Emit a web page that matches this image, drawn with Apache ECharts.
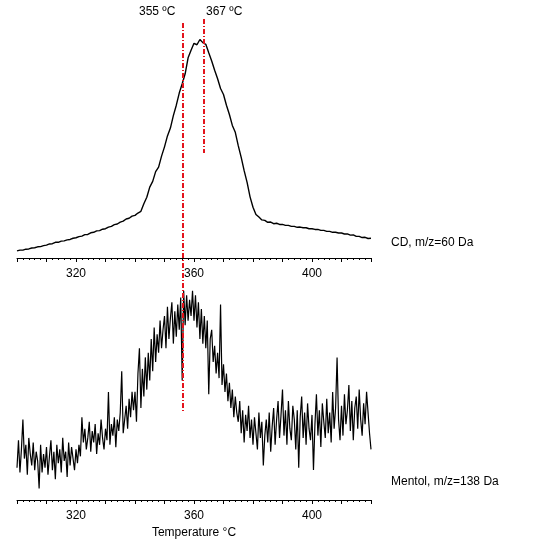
<!DOCTYPE html>
<html>
<head>
<meta charset="utf-8">
<script src="https://cdn.jsdelivr.net/npm/echarts@6/dist/echarts.min.js"></script>
<style>
  html, body { margin: 0; padding: 0; background: #fff; }
  #chart { width: 535px; height: 540px; }
</style>
</head>
<body>
<div id="chart"></div>
<script>
// temperature sampling of both traces (°C)
const tempStart = 300;
const cdStep = 1;
const mentolStep = 0.5;

// CD, m/z=60 Da (arbitrary units)
const cdValues = [
  3.0, 3.3, 3.3, 3.7, 3.8, 4.2, 4.3, 4.7, 4.8, 5.2,
  5.4, 5.9, 6.0, 6.6, 6.6, 7.1, 7.2, 7.6, 7.8, 8.3,
  8.5, 9.0, 9.2, 9.8, 9.9, 10.6, 10.8, 11.4, 11.5, 12.1,
  12.3, 13.0, 13.3, 14.0, 14.3, 15.1, 15.5, 16.4, 16.7, 17.6,
  17.9, 18.9, 19.6, 22.8, 25.5, 29.8, 32.2, 36.3, 38.2, 42.8,
  46.7, 51.3, 54.6, 59.8, 64.2, 69.3, 73.2, 77.4, 84.1, 87.3,
  90.2, 89.6, 91.8, 90.5, 89.8, 86.2, 82.8, 78.9, 75.3, 71.2,
  68.7, 64.2, 60.3, 55.7, 52.8, 47.2, 42.3, 36.7, 31.8, 25.7,
  21.3, 18.3, 17.2, 16.0, 15.8, 15.0, 15.1, 14.4, 14.6, 14.1,
  14.1, 13.7, 13.7, 13.3, 13.3, 12.9, 13.0, 12.7, 12.7, 12.3,
  12.3, 12.0, 12.0, 11.6, 11.6, 11.2, 11.2, 10.8, 10.8, 10.5,
  10.5, 10.1, 10.1, 9.6, 9.7, 9.1, 9.1, 8.6, 8.7, 8.2,
  8.3
];

// Mentol, m/z=138 Da (arbitrary units)
const mentolValues = [
  14, 26, 12, 22, 35, 18, 24, 11, 27, 20,
  15, 25, 13, 21, 17, 5, 24, 12, 20, 14,
  23, 11, 19, 26, 13, 21, 9, 24, 16, 22,
  12, 27, 17, 21, 10, 25, 15, 23, 18, 13,
  22, 16, 24, 19, 36, 25, 31, 22, 27, 34,
  21, 30, 25, 33, 20, 29, 24, 35, 27, 22,
  31, 26, 47, 24, 33, 28, 36, 23, 35, 30,
  38, 56, 29, 35, 41, 31, 44, 36, 47, 39,
  47, 34, 55, 66, 40, 57, 45, 62, 48, 64,
  52, 70, 56, 75, 60, 72, 64, 78, 66, 74,
  80, 66, 84, 70, 79, 86, 68, 82, 71, 85,
  74, 88, 52, 91, 76, 89, 78, 87, 80, 91,
  78, 89, 75, 86, 70, 83, 68, 80, 66, 78,
  46, 70, 74, 60, 67, 55, 64, 53, 85, 50,
  59, 47, 55, 43, 51, 40, 48, 36, 45, 38,
  34, 43, 29, 39, 25, 37, 30, 41, 27, 35,
  24, 36, 29, 22, 38, 27, 34, 15, 28, 35,
  25, 38, 21, 32, 40, 24, 35, 43, 27, 37,
  48, 28, 39, 24, 43, 31, 26, 41, 35, 22,
  39, 14, 36, 45, 27, 38, 24, 42, 31, 26,
  37, 13, 33, 46, 28, 39, 23, 42, 34, 27,
  44, 29, 38, 25, 47, 31, 40, 62, 35, 26,
  41, 28, 46, 33, 39, 50, 30, 43, 26, 40,
  45, 31, 48, 35, 28, 42, 33, 47, 38, 29,
  22
];

const tickLabels = [320, 360, 400];

// red dash-dot markers (temperature, and vertical extent on the overlay scale 0..540)
const markerTemps = [356.3, 363.3];
const markerFrom = [23, 19];
const markerTo = [413, 153];
const markerLabels = ['355 ºC', '367 ºC'];

const FONT = '"Liberation Sans", Arial, sans-serif';

const toPairs = (vals, step) => vals.map((v, i) => [tempStart + i * step, v]);

function tempAxis(gridIndex, extra) {
  return Object.assign({
    type: 'value',
    gridIndex: gridIndex,
    min: 300,
    max: 420,
    interval: 10,
    axisLine: { lineStyle: { color: '#000', width: 1 } },
    axisTick: { length: 4, lineStyle: { color: '#000', width: 1 } },
    minorTick: { show: true, splitNumber: 5, length: 2, lineStyle: { color: '#000', width: 1 } },
    splitLine: { show: false },
    minorSplitLine: { show: false },
    axisLabel: {
      margin: 10,
      color: '#000',
      fontSize: 12,
      fontFamily: FONT,
      formatter: (v) => (tickLabels.includes(v) ? String(v) : ''),
    },
  }, extra || {});
}

const myChart = echarts.init(document.getElementById('chart'));

const option = {
  animation: false,
  backgroundColor: '#fff',
  grid: [
    { left: 17, width: 354, top: 20, height: 238 },
    { left: 17, width: 354, top: 270, height: 235 },
    { left: 17, width: 354, top: 0, height: 540 }, // overlay for markers
  ],
  xAxis: [
    tempAxis(0),
    tempAxis(1, {
      name: 'Temperature °C',
      nameLocation: 'middle',
      nameGap: 27,
      nameTextStyle: { color: '#000', fontSize: 12, fontFamily: FONT },
    }),
    { type: 'value', gridIndex: 2, min: 300, max: 420, show: false },
  ],
  yAxis: [
    { type: 'value', gridIndex: 0, min: 0, max: 100, show: false },
    { type: 'value', gridIndex: 1, min: 0, max: 100, show: false },
    { type: 'value', gridIndex: 2, min: 0, max: 540, inverse: true, show: false },
  ],
  series: [
    {
      name: 'CD',
      type: 'line',
      xAxisIndex: 0,
      yAxisIndex: 0,
      data: toPairs(cdValues, cdStep),
      showSymbol: false,
      lineStyle: { color: '#000', width: 1.4 },
    },
    {
      name: 'Mentol',
      type: 'line',
      xAxisIndex: 1,
      yAxisIndex: 1,
      data: toPairs(mentolValues, mentolStep),
      showSymbol: false,
      lineStyle: { color: '#000', width: 1.2 },
    },
    {
      name: 'markers',
      type: 'line',
      xAxisIndex: 2,
      yAxisIndex: 2,
      data: [],
      z: 10,
      markLine: {
        silent: true,
        symbol: ['none', 'none'],
        label: { show: false },
        lineStyle: { color: '#e3141c', width: 2, type: [5, 2, 1, 2] },
        data: markerTemps.map((t, i) => [
          { coord: [t, markerFrom[i]] },
          { coord: [t, markerTo[i]] },
        ]),
      },
    },
  ],
  graphic: [
    { type: 'text', left: 139, top: 6, style: { text: markerLabels[0], font: '12px ' + FONT, fill: '#000' } },
    { type: 'text', left: 206, top: 6, style: { text: markerLabels[1], font: '12px ' + FONT, fill: '#000' } },
    { type: 'text', left: 391, top: 237, style: { text: 'CD, m/z=60 Da', font: '12px ' + FONT, fill: '#000' } },
    { type: 'text', left: 391, top: 476, style: { text: 'Mentol, m/z=138 Da', font: '12px ' + FONT, fill: '#000' } },
  ],
};

myChart.setOption(option);
</script>
</body>
</html>
